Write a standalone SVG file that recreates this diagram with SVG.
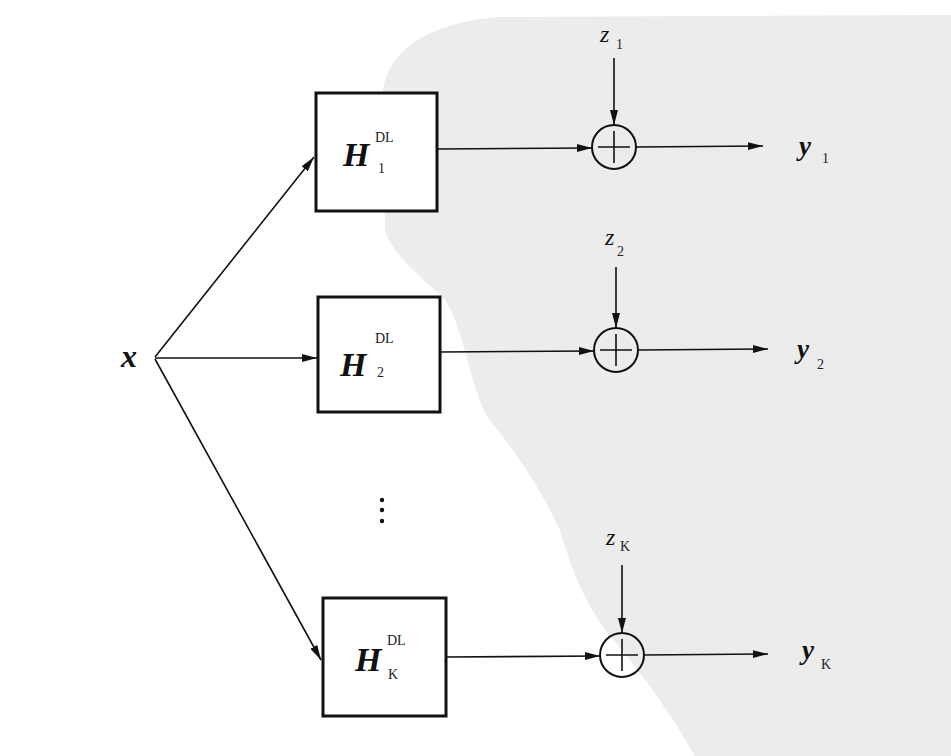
<svg xmlns="http://www.w3.org/2000/svg" width="951" height="756" viewBox="0 0 951 756">
<style>
.box{fill:#fff;stroke:#111;stroke-width:3}
.ln{fill:none;stroke:#111;stroke-width:1.6}
.sum{fill:none;stroke:#111;stroke-width:2}
.bi{font-family:"Liberation Serif",serif;font-weight:bold;font-style:italic;fill:#111}
.it{font-family:"Liberation Serif",serif;font-style:italic;fill:#111}
.sm{font-family:"Liberation Serif",serif;font-size:14px;fill:#222}
</style>
<defs>
<marker id="ah" markerUnits="userSpaceOnUse" markerWidth="16" markerHeight="10" refX="15" refY="4" orient="auto">
<path d="M0,0 L15,4 L0,8 Z" fill="#111"/>
</marker>
</defs>
<rect width="951" height="756" fill="#fff"/>
<path id="watermark" d="M383,100 C381,55 425,22 500,17 L951,15 L951,756 L695,756 C672,715 640,670 605,630 C585,600 575,580 560,530 C545,500 530,470 489,419 C470,390 465,330 445,300 C420,275 392,255 385,230 Z" fill="#ececec"/>
<g id="connectors">
<line class="ln" x1="155" y1="357" x2="314" y2="157" marker-end="url(#ah)"/>
<line class="ln" x1="155" y1="358" x2="317" y2="358" marker-end="url(#ah)"/>
<line class="ln" x1="155" y1="359" x2="321" y2="660" marker-end="url(#ah)"/>
<line class="ln" x1="437" y1="149" x2="592" y2="148" marker-end="url(#ah)"/>
<line class="ln" x1="636" y1="147" x2="763" y2="146" marker-end="url(#ah)"/>
<line class="ln" x1="614" y1="58" x2="614" y2="125" marker-end="url(#ah)"/>
<line class="ln" x1="440" y1="352" x2="594" y2="351" marker-end="url(#ah)"/>
<line class="ln" x1="638" y1="350" x2="768" y2="349" marker-end="url(#ah)"/>
<line class="ln" x1="616" y1="267" x2="616" y2="328" marker-end="url(#ah)"/>
<line class="ln" x1="446" y1="657" x2="600" y2="656" marker-end="url(#ah)"/>
<line class="ln" x1="644" y1="655" x2="768" y2="654" marker-end="url(#ah)"/>
<line class="ln" x1="622" y1="565" x2="622" y2="633" marker-end="url(#ah)"/>
</g>
<g id="input-x"><text class="bi" x="121" y="367" font-size="32">x</text></g>
<g id="box-H1">
<rect class="box" x="316" y="93" width="121" height="118"/>
<text class="bi" x="343" y="166" font-size="34">H</text>
<text class="sm" x="375" y="142">DL</text>
<text class="sm" x="378" y="173">1</text>
</g>
<g id="box-H2">
<rect class="box" x="318" y="297" width="122" height="115"/>
<text class="bi" x="340" y="376" font-size="34">H</text>
<text class="sm" x="375" y="343">DL</text>
<text class="sm" x="377" y="377">2</text>
</g>
<g id="box-HK">
<rect class="box" x="323" y="598" width="123" height="118"/>
<text class="bi" x="355" y="671" font-size="34">H</text>
<text class="sm" x="387" y="645">DL</text>
<text class="sm" x="388" y="679">K</text>
</g>
<g id="dots">
<circle cx="382" cy="500" r="2.2" fill="#111"/>
<circle cx="382" cy="510" r="2.2" fill="#111"/>
<circle cx="382" cy="521" r="2.2" fill="#111"/>
</g>
<g id="sum1">
<circle class="sum" cx="614" cy="147" r="22"/>
<path class="ln" d="M598,147 H630 M614,131 V163"/>
</g>
<g id="sum2">
<circle class="sum" cx="616" cy="350" r="22"/>
<path class="ln" d="M600,350 H632 M616,334 V366"/>
</g>
<g id="sumK">
<circle class="sum" cx="622" cy="655" r="22"/>
<path class="ln" d="M606,655 H638 M622,639 V671"/>
</g>
<g id="label-z1"><text class="it" x="600" y="42" font-size="24">z</text><text class="sm" x="616" y="49">1</text></g>
<g id="label-z2"><text class="it" x="605" y="245" font-size="24">z</text><text class="sm" x="617" y="256">2</text></g>
<g id="label-zK"><text class="it" x="606" y="545" font-size="24">z</text><text class="sm" x="620" y="551">K</text></g>
<g id="label-y1"><text class="bi" x="799" y="155" font-size="27">y</text><text class="sm" x="822" y="163">1</text></g>
<g id="label-y2"><text class="bi" x="797" y="358" font-size="27">y</text><text class="sm" x="817" y="369">2</text></g>
<g id="label-yK"><text class="bi" x="802" y="659" font-size="27">y</text><text class="sm" x="821" y="669">K</text></g>
</svg>
